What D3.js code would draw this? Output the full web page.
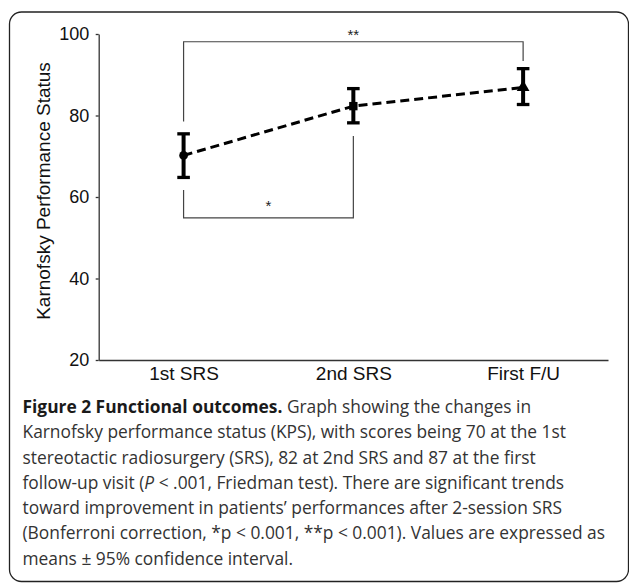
<!DOCTYPE html>
<html>
<head>
<meta charset="utf-8">
<script src="https://cdn.jsdelivr.net/npm/d3@7"></script>
<style>
  body { margin: 0; background: #fff; }
  svg { display: block; }
  .axis path, .axis line { stroke: #333; stroke-width: 1.3; }
  .axis text { fill: #111; font-family: "Liberation Sans", Arial, sans-serif; }
</style>
</head>
<body>
<div class="chart-container"></div>
<script>
// KPS at each time point (means with 95% CI)
const categories = ["1st SRS", "2nd SRS", "First F/U"];
const means = [70.2, 82.3, 86.9];
const ciLow = [64.8, 78.2, 82.7];
const ciHigh = [75.5, 86.6, 91.5];
const markers = ["circle", "square", "triangle"];
const yTicks = [20, 40, 60, 80, 100];

// significance brackets
const bracketLabels = ["*", "**"];
const bracketFrom = [0, 0];
const bracketTo = [1, 2];
const bracketLevel = [54.9, 98.1];
const bracketLeftEnd = [61.7, 78.5];
const bracketRightEnd = [75.0, 93.4];

const captionLines = [
  [["b", "Figure 2 Functional outcomes."], ["n", " Graph showing the changes in"]],
  [["n", "Karnofsky performance status (KPS), with scores being 70 at the 1st"]],
  [["n", "stereotactic radiosurgery (SRS), 82 at 2nd SRS and 87 at the first"]],
  [["n", "follow-up visit ("], ["i", "P"], ["n", " < .001, Friedman test). There are significant trends"]],
  [["n", "toward improvement in patients\u2019 performances after 2-session SRS"]],
  [["n", "(Bonferroni correction, *p < 0.001, **p < 0.001). Values are expressed as"]],
  [["n", "means \u00b1 95% confidence interval."]],
];

const W = 629, H = 584;
const svg = d3.select(".chart-container")
  .append("svg")
  .attr("width", W)
  .attr("height", H);

// figure frame
svg.append("rect")
  .attr("x", 9.5).attr("y", 12)
  .attr("width", 619).attr("height", 569.5)
  .attr("rx", 12).attr("ry", 12)
  .attr("fill", "none")
  .attr("stroke", "#222")
  .attr("stroke-width", 1.3);

const x = d3.scalePoint()
  .domain(categories)
  .range([98.7, 608])
  .padding(0.5);

const y = d3.scaleLinear()
  .domain([20, 100])
  .range([360, 34]);

// axes
svg.append("g")
  .attr("class", "axis")
  .attr("transform", "translate(98.7,0)")
  .call(d3.axisLeft(y).tickValues(yTicks).tickSize(3).tickSizeOuter(0).tickPadding(6.5))
  .selectAll("text")
  .style("font-size", "18px");

svg.append("g")
  .attr("class", "axis")
  .attr("transform", "translate(0,360)")
  .call(d3.axisBottom(x).tickSize(0).tickPadding(6.5))
  .selectAll("text")
  .style("font-size", "19px");

svg.append("text")
  .attr("transform", "translate(50,191) rotate(-90)")
  .attr("text-anchor", "middle")
  .style("font-family", "'Liberation Sans', Arial, sans-serif")
  .style("font-size", "19px")
  .attr("fill", "#111")
  .text("Karnofsky Performance Status");

// brackets
const br = svg.append("g").attr("class", "brackets");
bracketLabels.forEach((lab, i) => {
  const x0 = x(categories[bracketFrom[i]]);
  const x1 = x(categories[bracketTo[i]]);
  const pts = [[x0, y(bracketLeftEnd[i])], [x0, y(bracketLevel[i])],
               [x1, y(bracketLevel[i])], [x1, y(bracketRightEnd[i])]];
  br.append("path")
    .attr("d", d3.line()(pts))
    .attr("fill", "none")
    .attr("stroke", "#444")
    .attr("stroke-width", 1.2);
  // star sits above a top bracket, inside a bottom one
  const above = bracketLevel[i] > bracketLeftEnd[i];
  br.append("text")
    .attr("x", (x0 + x1) / 2)
    .attr("y", above ? y(bracketLevel[i]) - 1.5 : y(bracketLevel[i]) - 6.5)
    .attr("text-anchor", "middle")
    .style("font-family", "'Liberation Sans', Arial, sans-serif")
    .style("font-size", "15px")
    .attr("fill", "#222")
    .text(lab);
});

// dashed trend line
const line = d3.line()
  .x((d, i) => x(categories[i]))
  .y(d => y(d));

svg.append("path")
  .datum(means)
  .attr("d", line)
  .attr("fill", "none")
  .attr("stroke", "#000")
  .attr("stroke-width", 3)
  .attr("stroke-dasharray", "9,5");

// error bars
const eb = svg.append("g").attr("class", "errorbars");
categories.forEach((c, i) => {
  const cx = x(c);
  eb.append("line")
    .attr("x1", cx).attr("x2", cx)
    .attr("y1", y(ciLow[i])).attr("y2", y(ciHigh[i]))
    .attr("stroke", "#000").attr("stroke-width", 4);
  [ciLow[i], ciHigh[i]].forEach(v => {
    eb.append("line")
      .attr("x1", cx - 6.3).attr("x2", cx + 6.3)
      .attr("y1", y(v)).attr("y2", y(v))
      .attr("stroke", "#000").attr("stroke-width", 3.3);
  });
});

// markers
const symbolTypes = { circle: d3.symbolCircle, square: d3.symbolSquare, triangle: d3.symbolTriangle };
svg.append("g")
  .selectAll("path")
  .data(means)
  .enter()
  .append("path")
  .attr("transform", (d, i) => "translate(" + x(categories[i]) + "," + y(d) + ")")
  .attr("d", (d, i) => d3.symbol().type(symbolTypes[markers[i]]).size(markers[i] === "circle" ? 60 : 70)())
  .attr("fill", "#000");

// caption
const cap = svg.append("g")
  .attr("class", "caption");
const capText = cap.selectAll("text")
  .data(captionLines)
  .enter()
  .append("text")
  .attr("x", 0)
  .attr("y", (d, i) => 413 + i * 25.3)
  .style("font-family", "'Open Sans', 'Noto Sans', sans-serif")
  .style("font-size", "18px")
  .attr("fill", "#333");

capText.each(function (parts) {
  const t = d3.select(this);
  parts.forEach(p => {
    const ts = t.append("tspan").text(p[1]);
    if (p[0] === "b") ts.style("font-weight", "bold").attr("fill", "#1a1a1a");
    if (p[0] === "i") ts.style("font-style", "italic");
  });
});

// squeeze caption horizontally so the longest line fits the figure width
const longest = d3.max(capText.nodes(), n => n.getComputedTextLength());
const sx = 583 / longest;
cap.attr("transform", "translate(22.5,0) scale(" + sx + ",1)");
</script>
</body>
</html>
